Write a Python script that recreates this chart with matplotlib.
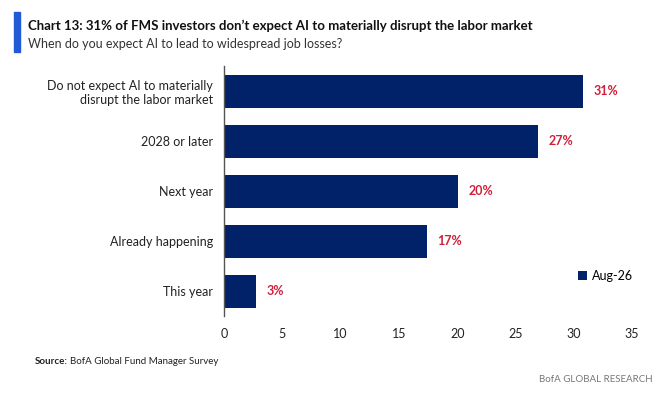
import matplotlib
matplotlib.use('Agg')
import matplotlib.pyplot as plt
from matplotlib.patches import Rectangle

# datos
categorias = ['Do not expect AI to materially\ndisrupt the labor market',
              '2028 or later', 'Next year', 'Already happening', 'This year']
valores = [30.8, 26.9, 20.1, 17.4, 2.75]
etiquetas = ['31%', '27%', '20%', '17%', '3%']
serie = 'Aug-26'
ticks_x = [0, 5, 10, 15, 20, 25, 30, 35]

azul = '#012169'
rojo = '#D0213A'
plt.rcParams['font.family'] = ['Lato', 'DejaVu Sans']

fig = plt.figure(figsize=(6.57, 4.0), dpi=100)
ax = fig.add_axes([0.341, 0.21, 0.621, 0.625])

pos = list(range(len(categorias)))
ax.barh(pos, valores, height=0.66, color=azul, label=serie)
for p, v, t in zip(pos, valores, etiquetas):
    ax.text(v + 0.9, p, t, va='center', ha='left', color=rojo,
            fontsize=9, fontweight='bold')

ax.set_ylim(len(categorias) - 0.5, -0.5)
ax.set_xlim(0, 35)
ax.set_yticks(pos)
ax.set_yticklabels(categorias, fontsize=9, color='#222222')
ax.set_xticks(ticks_x)
ax.set_xticklabels([str(t) for t in ticks_x], fontsize=9, color='#222222')
ax.tick_params(axis='both', length=0)
ax.tick_params(axis='x', pad=9)
ax.tick_params(axis='y', pad=8)
for s in ['top', 'right', 'bottom']:
    ax.spines[s].set_visible(False)
ax.spines['left'].set_color('#555555')
ax.spines['left'].set_linewidth(1.0)

ax.legend(loc='center left', bbox_to_anchor=(0.84, 0.16), frameon=False,
          fontsize=9, handlelength=0.7, handleheight=0.7, handletextpad=0.4)

# titulo
fig.patches.append(Rectangle((14 / 657, 1 - 52 / 400), 6 / 657, 40 / 400,
                             transform=fig.transFigure, color='#1F5BD6'))
fig.text(28 / 657, 1 - 26 / 400,
         "Chart 13: 31% of FMS investors don\u2019t expect AI to materially disrupt the labor market",
         fontsize=9.5, fontweight='bold', va='center', ha='left', color='#111111')
fig.text(28 / 657, 1 - 44 / 400, 'When do you expect AI to lead to widespread job losses?',
         fontsize=9, va='center', ha='left', color='#333333')

t = fig.text(35 / 657, 1 - 361 / 400, 'Source:', fontsize=7, fontweight='bold',
             va='center', ha='left', color='#222222')
fig.canvas.draw()
bb = t.get_window_extent().transformed(fig.transFigure.inverted())
fig.text(bb.x1 + 2 / 657, 1 - 361 / 400, 'BofA Global Fund Manager Survey',
         fontsize=7, va='center', ha='left', color='#222222')
fig.text(653 / 657, 1 - 379 / 400, 'BofA GLOBAL RESEARCH', fontsize=7,
         va='center', ha='right', color='#777777')

fig.savefig('out.png', dpi=100)
